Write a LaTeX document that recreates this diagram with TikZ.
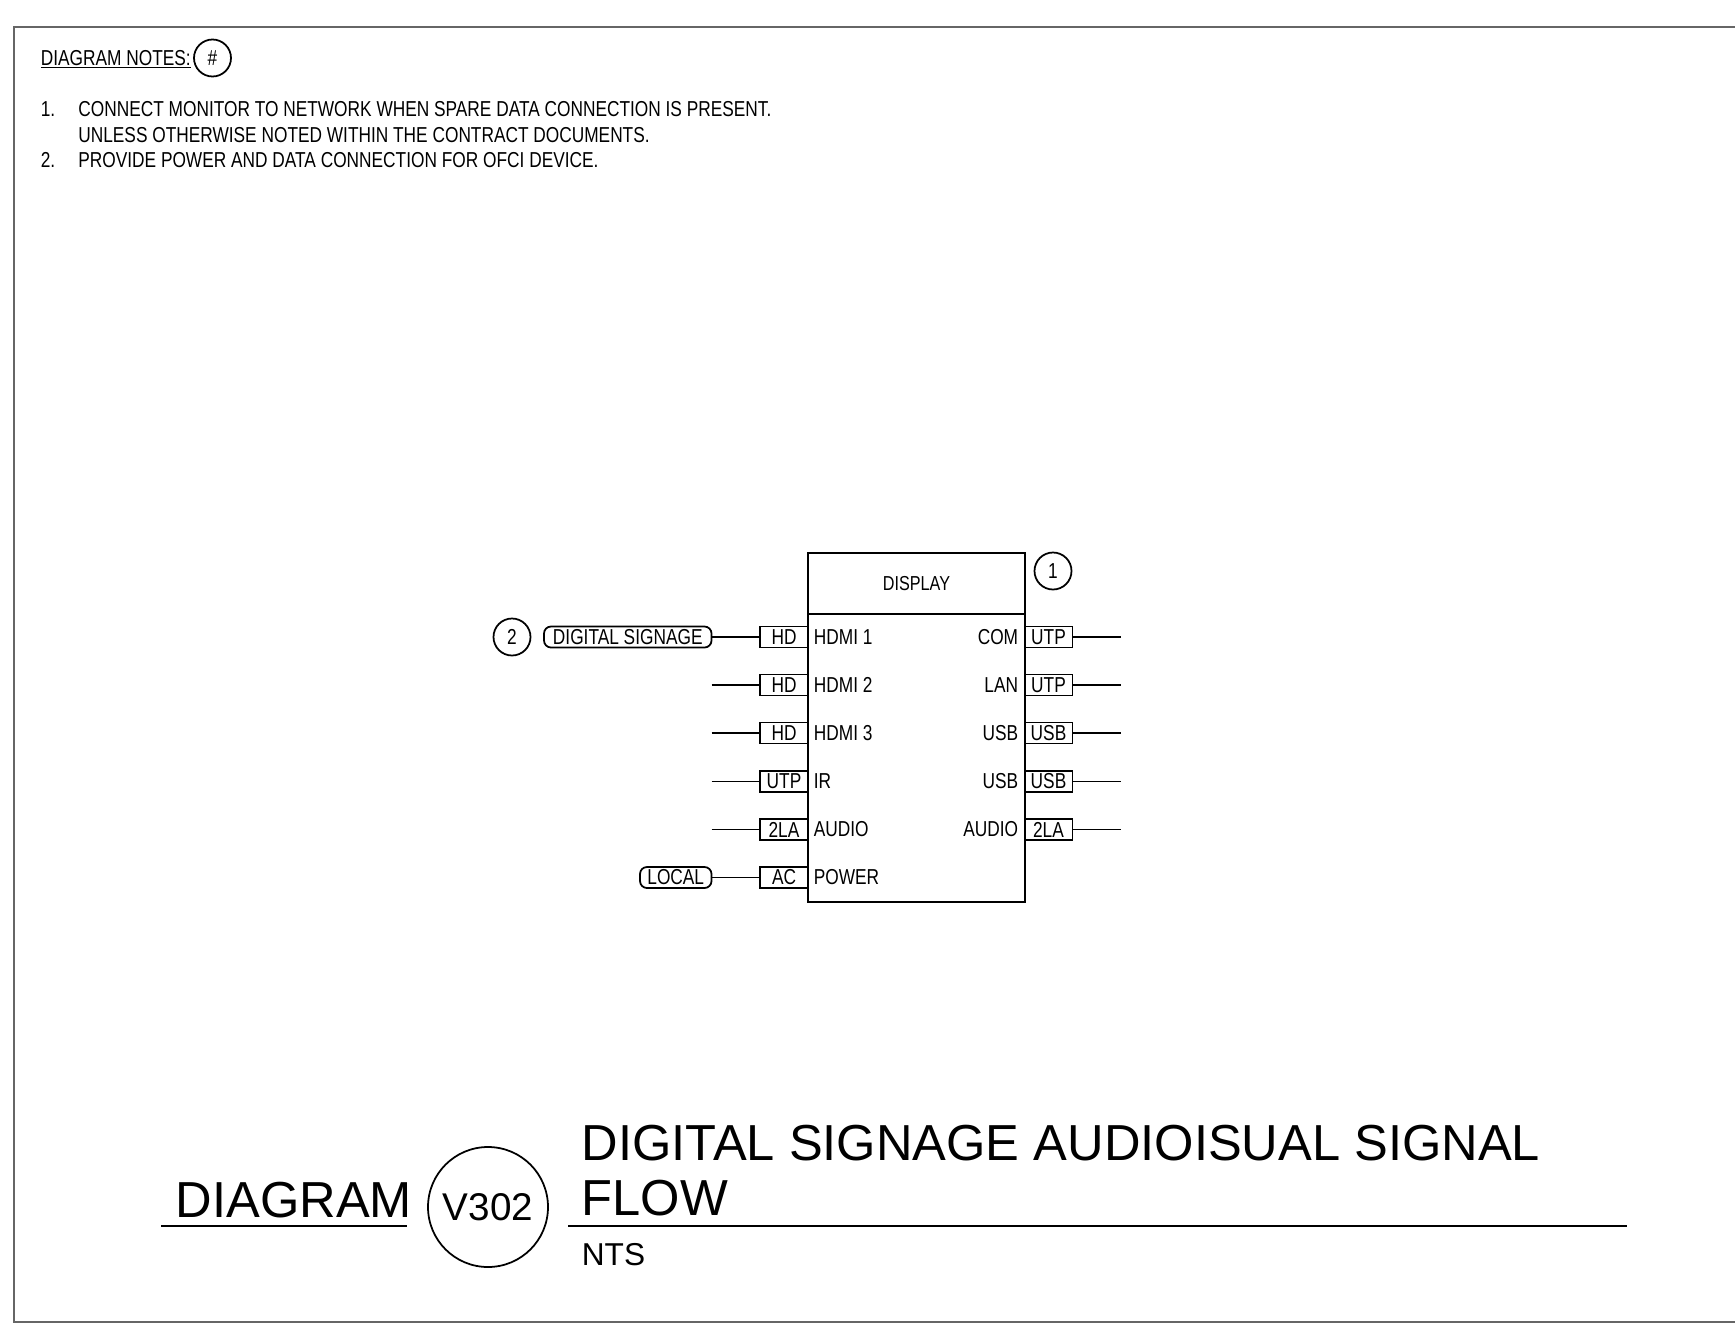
\documentclass[tikz,border=0pt]{standalone}
\usepackage{fontspec}
\setmainfont{Liberation Sans}
\newfontfamily\narrowfont[FakeStretch=0.8]{Liberation Sans}

\begin{document}
\begin{tikzpicture}[line width=1pt,
  small/.style={font=\narrowfont\fontsize{12.3}{15}\selectfont},
  port/.style={draw, small, minimum width=0.96cm, minimum height=0.42cm, inner sep=0pt},
  tag/.style={draw, small, rounded corners=0.14cm, minimum height=0.42cm, inner sep=0pt},
  num/.style={draw, circle, small, minimum size=0.74cm, inner sep=0pt},
  lbl/.style={small, inner sep=0pt},
  big/.style={inner sep=0pt, font=\fontsize{28.8}{34}\selectfont}]

\useasboundingbox (0,0) rectangle (34.7,-26.52);

% sheet border
\draw[black!60, line width=1.1pt] (34.7,-0.54) -- (0.28,-0.54) -- (0.28,-26.44) -- (34.7,-26.44);

% notes
\node[lbl, anchor=base west] (notes) at (0.8,-1.3) {\underline{DIAGRAM NOTES:}};
\node[num] (hash) at (4.25,-1.16) {\#};
\node[lbl, anchor=base west] (n1) at (0.8,-2.32) {1.};
\node[lbl, anchor=base west] (n1a) at (1.55,-2.32) {CONNECT MONITOR TO NETWORK WHEN SPARE DATA CONNECTION IS PRESENT.};
\node[lbl, anchor=base west] (n1b) at (1.55,-2.84) {UNLESS OTHERWISE NOTED WITHIN THE CONTRACT DOCUMENTS.};
\node[lbl, anchor=base west] (n2) at (0.8,-3.34) {2.};
\node[lbl, anchor=base west] (n2a) at (1.55,-3.34) {PROVIDE POWER AND DATA CONNECTION FOR OFCI DEVICE.};

% display
\node[draw, lbl, font=\narrowfont\fontsize{11.5}{14}\selectfont, minimum width=4.34cm, minimum height=1.22cm] (dispname) at (18.33,-11.67) {DISPLAY};
\node[draw, minimum width=4.34cm, minimum height=5.76cm, inner sep=0pt] (disp) at (18.33,-15.16) {};
\node[num] (c1) at (21.06,-11.42) {1};

% inputs
\node[port] (inhd1) at (15.68,-12.74) {HD};
\node[lbl, anchor=west] (lhdmi1) at (16.26,-12.74) {HDMI 1};
\node[port] (inhd2) at (15.68,-13.70) {HD};
\node[lbl, anchor=west] (lhdmi2) at (16.26,-13.70) {HDMI 2};
\node[port] (inhd3) at (15.68,-14.66) {HD};
\node[lbl, anchor=west] (lhdmi3) at (16.26,-14.66) {HDMI 3};
\node[port] (inir) at (15.68,-15.63) {UTP};
\node[lbl, anchor=west] (lir) at (16.26,-15.63) {IR};
\node[port] (inaud) at (15.68,-16.59) {2LA};
\node[lbl, anchor=west] (laudin) at (16.26,-16.59) {AUDIO};
\node[port] (inpwr) at (15.68,-17.55) {AC};
\node[lbl, anchor=west] (lpwr) at (16.26,-17.55) {POWER};

% outputs
\node[port] (outcom) at (20.97,-12.74) {UTP};
\node[lbl, anchor=east] (lcom) at (20.38,-12.74) {COM};
\node[port] (outlan) at (20.97,-13.70) {UTP};
\node[lbl, anchor=east] (llan) at (20.38,-13.70) {LAN};
\node[port] (outusb1) at (20.97,-14.66) {USB};
\node[lbl, anchor=east] (lusb1) at (20.38,-14.66) {USB};
\node[port] (outusb2) at (20.97,-15.63) {USB};
\node[lbl, anchor=east] (lusb2) at (20.38,-15.63) {USB};
\node[port] (outaud) at (20.97,-16.59) {2LA};
\node[lbl, anchor=east] (laudout) at (20.38,-16.59) {AUDIO};

% sources
\node[tag, minimum width=3.35cm] (signage) at (12.555,-12.74) {DIGITAL SIGNAGE};
\node[num] (c2) at (10.24,-12.74) {2};
\node[tag, minimum width=1.43cm] (local) at (13.515,-17.55) {LOCAL};

% cable ends
\coordinate (ehd2) at (14.23,-13.70);
\coordinate (ehd3) at (14.23,-14.66);
\coordinate (eir) at (14.23,-15.63);
\coordinate (eaudin) at (14.23,-16.59);
\coordinate (ecom) at (22.42,-12.74);
\coordinate (elan) at (22.42,-13.70);
\coordinate (eusb1) at (22.42,-14.66);
\coordinate (eusb2) at (22.42,-15.63);
\coordinate (eaudout) at (22.42,-16.59);

\draw (signage) -- (inhd1);
\draw (ehd2) -- (inhd2);
\draw (ehd3) -- (inhd3);
\draw (eir) -- (inir);
\draw (eaudin) -- (inaud);
\draw (local) -- (inpwr);
\draw (outcom) -- (ecom);
\draw (outlan) -- (elan);
\draw (outusb1) -- (eusb1);
\draw (outusb2) -- (eusb2);
\draw (outaud) -- (eaudout);

% title block
\node[big, anchor=base west] (dgm) at (3.5,-24.34) {DIAGRAM};
\draw[line width=1.4pt] (3.22,-24.52) -- (8.14,-24.52);
\node[draw, circle, minimum size=2.4cm, inner sep=0pt, font=\fontsize{22}{26}\selectfont] (sheet) at (9.76,-24.14) {V302};
\node[big, anchor=base west] (ttl1) at (11.62,-23.2) {DIGITAL SIGNAGE AUDIOISUAL SIGNAL};
\node[big, anchor=base west] (ttl2) at (11.62,-24.3) {FLOW};
\draw[line width=1.4pt] (11.36,-24.52) -- (32.54,-24.52);
\node[inner sep=0pt, anchor=base west, font=\fontsize{18}{22}\selectfont] (nts) at (11.62,-25.3) {NTS};

\end{tikzpicture}
\end{document}
